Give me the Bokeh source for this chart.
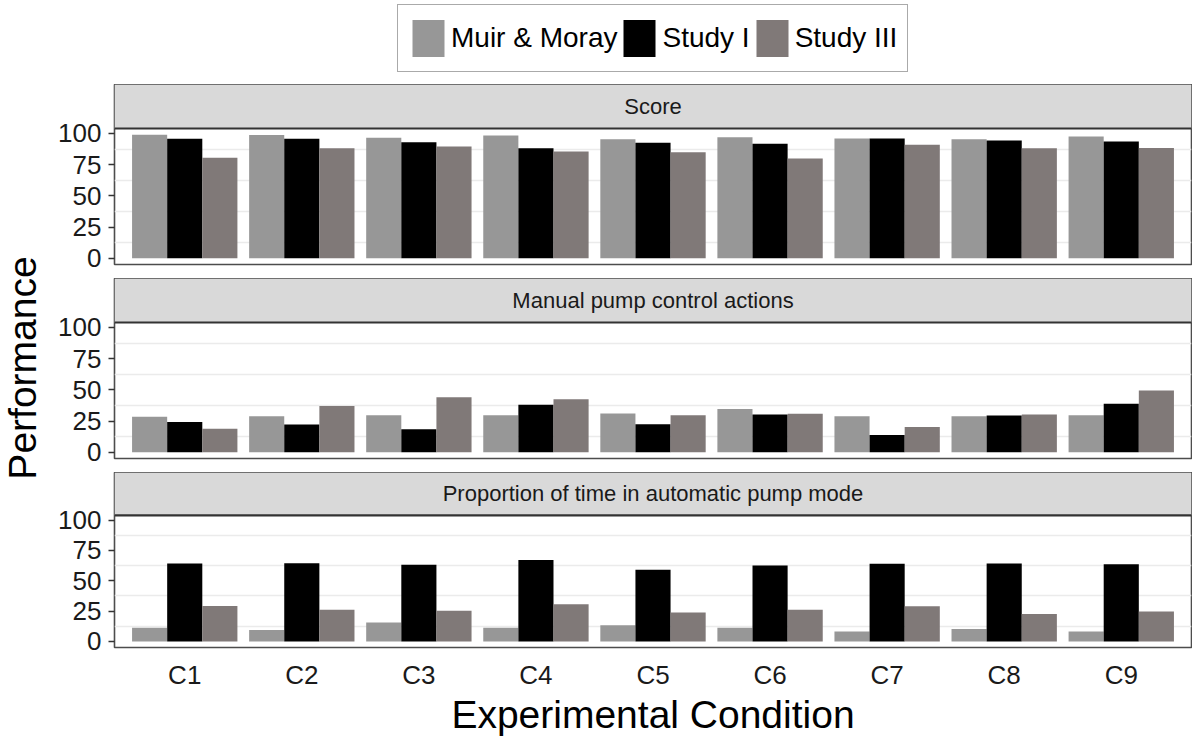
import math

from bokeh.embed import file_html
from bokeh.layouts import column, row
from bokeh.models import (BoxAnnotation, ColumnDataSource, FactorRange, FixedTicker, Label,
                          Legend, LegendItem, Range1d, Span)
from bokeh.plotting import figure
from bokeh.resources import INLINE
from bokeh.transform import dodge

# ---------------------------------------------------------------- data
conditions = ["C1", "C2", "C3", "C4", "C5", "C6", "C7", "C8", "C9"]
studies = ["Muir & Moray", "Study I", "Study III"]
study_colors = ["#979797", "#000000", "#807978"]

score_muir = [99.0, 98.7, 96.5, 98.4, 95.4, 97.0, 96.0, 95.4, 97.6]
score_study1 = [95.7, 95.7, 93.0, 88.2, 92.5, 91.7, 96.0, 94.4, 93.5]
score_study3 = [80.6, 88.2, 89.5, 85.5, 85.0, 80.0, 90.9, 88.2, 88.4]

manual_muir = [28.4, 28.9, 29.7, 29.7, 31.1, 34.6, 28.9, 28.9, 29.7]
manual_study1 = [24.3, 22.2, 18.4, 38.1, 22.4, 30.3, 13.8, 29.5, 38.9]
manual_study3 = [18.9, 37.0, 44.0, 42.4, 29.7, 30.8, 20.3, 30.3, 49.5]

auto_muir = [11.3, 9.4, 15.6, 11.3, 13.4, 11.3, 8.3, 10.2, 8.3]
auto_study1 = [64.2, 64.5, 63.2, 67.2, 59.1, 62.6, 64.0, 64.2, 63.7]
auto_study3 = [29.3, 26.1, 25.3, 30.6, 23.9, 26.1, 29.0, 22.6, 24.7]

panel_titles = ["Score", "Manual pump control actions",
                "Proportion of time in automatic pump mode"]
panel_values = [
    (score_muir, score_study1, score_study3),
    (manual_muir, manual_study1, manual_study3),
    (auto_muir, auto_study1, auto_study3),
]
y_ticks = [0, 25, 50, 75, 100]
y_minor_grid = [12.5, 37.5, 62.5, 87.5]

# ---------------------------------------------------------------- style
FONT = "Liberation Sans"
TITLE_W = 44          # column holding the shared y title
W = 1192 - TITLE_W    # width of every stacked figure
LEFT = 114 - TITLE_W  # room for the y axis
RIGHT = 1
FRAME_W = W - LEFT - RIGHT
BAR_W = 0.3
OFFSETS = [-BAR_W, 0.0, BAR_W]

Y0, Y1 = -4.95, 103.95   # value range of each panel (ggplot-style 5% expansion)
PLOT_PX = 136            # pixel height of the value area
STRIP_PX = 44            # pixel height of the facet strip above it
STRIP_UNITS = STRIP_PX * (Y1 - Y0) / PLOT_PX
Y_TOP = Y1 + STRIP_UNITS


def base_fig(height, **kw):
    opts = dict(width=W, height=height, toolbar_location=None, output_backend="svg",
                min_border_left=LEFT, min_border_right=RIGHT,
                min_border_top=0, min_border_bottom=0)
    opts.update(kw)
    f = figure(**opts)
    f.border_fill_color = "white"
    return f


def panel(title, values, last):
    gap = 86 if last else 14
    src = ColumnDataSource(dict(cond=conditions, muir=values[0],
                                study1=values[1], study3=values[2]))
    p = base_fig(STRIP_PX + PLOT_PX + gap,
                 x_range=FactorRange(*conditions, range_padding=0.1,
                                     range_padding_units="absolute"),
                 y_range=Range1d(Y0, Y_TOP),
                 x_axis_location="below" if last else None,
                 min_border_bottom=gap)
    for key, off, color in zip(["muir", "study1", "study3"], OFFSETS, study_colors):
        p.vbar(x=dodge("cond", off, range=p.x_range), top=key, width=BAR_W,
               source=src, fill_color=color, line_color=None)

    # facet strip across the top of the panel
    p.add_layout(BoxAnnotation(bottom=Y1, fill_color="#D9D9D9", fill_alpha=1.0,
                               line_color=None, level="underlay"))
    p.add_layout(Span(location=Y1, dimension="width", line_color="#333333",
                      line_width=2.2))
    p.add_layout(Label(x=FRAME_W / 2, x_units="screen", y=(Y1 + Y_TOP) / 2,
                       text=title, text_align="center", text_baseline="middle",
                       text_font=FONT, text_font_size="22px", text_color="#1A1A1A"))

    p.outline_line_color = "#4D4D4D"
    p.outline_line_width = 1.6
    p.xgrid.visible = False
    p.ygrid.ticker = FixedTicker(ticks=y_minor_grid)
    p.ygrid.grid_line_color = "#EBEBEB"
    p.ygrid.grid_line_width = 1.5

    ya = p.yaxis[0]
    ya.ticker = FixedTicker(ticks=y_ticks)
    ya.axis_line_color = None
    ya.major_tick_out = 6
    ya.major_tick_in = 0
    ya.minor_tick_out = 0
    ya.minor_tick_in = 0
    ya.major_tick_line_color = "#333333"
    ya.major_tick_line_width = 1.5
    ya.major_label_standoff = 7
    ya.major_label_text_font = FONT
    ya.major_label_text_font_size = "26px"
    ya.major_label_text_color = "#1A1A1A"

    if last:
        xa = p.xaxis[0]
        xa.axis_line_color = None
        xa.major_tick_out = 0
        xa.major_tick_in = 0
        xa.major_label_standoff = 12
        xa.major_label_text_font = FONT
        xa.major_label_text_font_size = "26px"
        xa.major_label_text_color = "#1A1A1A"
        xa.axis_label = "Experimental Condition"
        xa.axis_label_text_font = FONT
        xa.axis_label_text_font_size = "39px"
        xa.axis_label_text_font_style = "normal"
        xa.axis_label_text_color = "#000000"
        xa.axis_label_standoff = 0
    return p


# ---------------------------------------------------------------- legend row
lg = base_fig(84, x_range=Range1d(0, 1), y_range=Range1d(0, 1),
              x_axis_location=None, y_axis_location=None)
lg.grid.visible = False
lg.outline_line_color = None
items = []
for name, color in zip(studies, study_colors):
    # zero-height key glyph: only its legend swatch is shown
    r = lg.vbar(x=[0.5], top=[0], bottom=[0], width=BAR_W,
                fill_color=color, line_color=None)
    items.append(LegendItem(label=name, renderers=[r]))
legend = Legend(items=items, orientation="horizontal", location=(283, 12),
                glyph_width=40, glyph_height=46, label_standoff=3, spacing=2,
                padding=10, margin=0, label_text_font=FONT,
                label_text_font_size="28px", label_text_color="#000000",
                border_line_color="#555555", border_line_width=1.5,
                background_fill_color="white")
lg.add_layout(legend)

# ---------------------------------------------------------------- y title
yt = figure(width=TITLE_W, height=738, x_range=Range1d(0, 1), y_range=Range1d(0, 1),
            x_axis_location=None, y_axis_location=None, toolbar_location=None,
            output_backend="svg", min_border=0)
yt.grid.visible = False
yt.outline_line_color = None
yt.add_layout(Label(x=21.5, y=738 - 367.5, x_units="screen", y_units="screen",
                    text="Performance", angle=math.pi / 2, text_align="center",
                    text_baseline="middle", text_font=FONT,
                    text_font_size="39px", text_color="#000000"))

stack = [lg]
for i, (title, vals) in enumerate(zip(panel_titles, panel_values)):
    stack.append(panel(title, vals, i == len(panel_titles) - 1))

layout = row(yt, column(*stack, spacing=0), spacing=0)

open("out.html", "w").write(file_html(layout, INLINE))
